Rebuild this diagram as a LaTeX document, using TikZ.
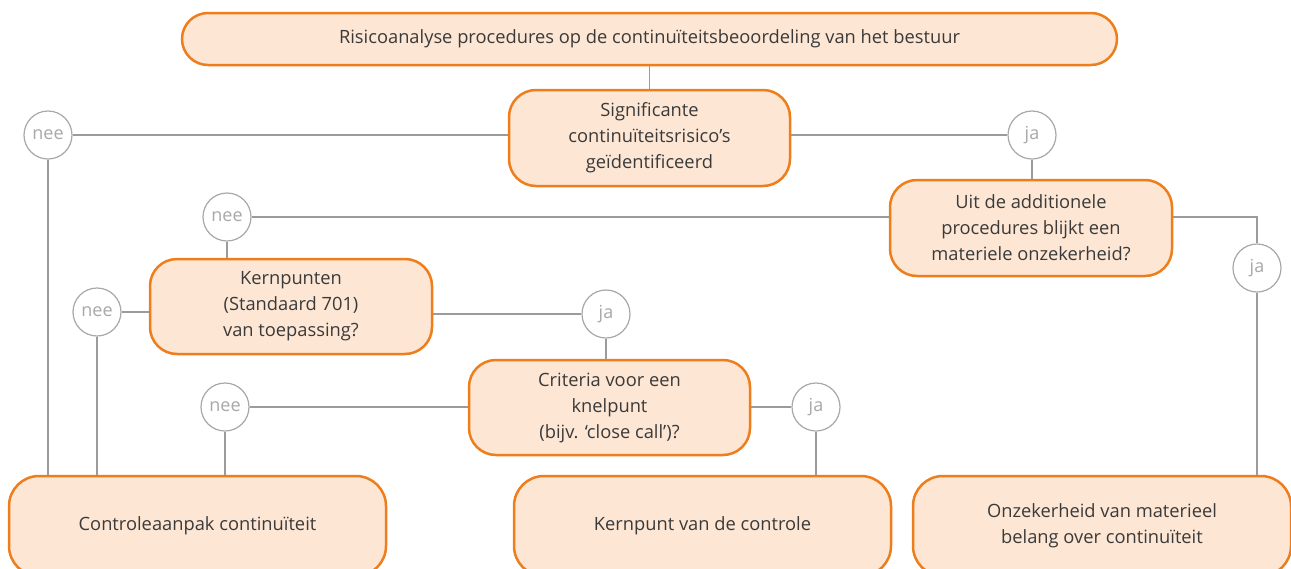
\documentclass[tikz,border=0pt]{standalone}
\usepackage{fontspec}
\setmainfont{Open Sans}
\definecolor{boxfill}{HTML}{FDE6D4}
\definecolor{boxline}{HTML}{EE7D1B}
\definecolor{conn}{HTML}{9B9B9B}
\definecolor{circ}{HTML}{A8A8A8}
\definecolor{txt}{HTML}{3A3A3A}
\tikzset{
  stepbox/.style={draw=boxline, fill=boxfill, line width=2.5pt, rounded corners=27pt,
    text=txt, align=center, font=\fontsize{18.3}{26}\selectfont, inner sep=0pt},
  answer/.style={circle, draw=circ, fill=white, line width=1.2pt, minimum size=48pt,
    inner sep=0pt, text=circ, font=\fontsize{18}{20}\selectfont},
  link/.style={draw=conn, line width=1.3pt}
}
\begin{document}
\begin{tikzpicture}[x=1pt,y=-1pt]
\useasboundingbox (0,0) rectangle (1291,568);
\clip (0,0) rectangle (1291,568);
\node[stepbox, minimum width=935pt, minimum height=52pt, rounded corners=26pt] (top) at (649.5,39)
  {Risicoanalyse procedures op de continuïteitsbeoordeling van het bestuur};
\node[stepbox, minimum width=281pt, minimum height=96pt] (sig) at (649.5,138)
  {Significante\\continuïteitsrisico’s\\geïdentificeerd};
\node[stepbox, minimum width=282pt, minimum height=96pt] (uit) at (1031,228)
  {Uit de additionele\\procedures blijkt een\\materiele onzekerheid?};
\node[stepbox, minimum width=282pt, minimum height=95pt] (kern) at (291,306.5)
  {Kernpunten\\(Standaard 701)\\van toepassing?};
\node[stepbox, minimum width=281pt, minimum height=95pt] (crit) at (609.5,407.5)
  {Criteria voor een\\knelpunt\\(bijv. ‘close call’)?};
\node[stepbox, minimum width=377pt, minimum height=100pt, rounded corners=30pt] (ctrl) at (197.5,526)
  {Controleaanpak continuïteit};
\node[stepbox, minimum width=377pt, minimum height=100pt, rounded corners=30pt] (kp) at (702.5,526)
  {Kernpunt van de controle};
\node[stepbox, minimum width=378pt, minimum height=100pt, rounded corners=30pt] (onz) at (1102,526)
  {Onzekerheid van materieel\\belang over continuïteit};

\node[answer] (nee1) at (48,135) {nee};
\node[answer] (ja1) at (1032,135) {ja};
\node[answer] (nee2) at (227,217) {nee};
\node[answer] (ja2) at (1257,268) {ja};
\node[answer] (nee3) at (97,312) {nee};
\node[answer] (ja3) at (606,314) {ja};
\node[answer] (nee4) at (225,407) {nee};
\node[answer] (ja4) at (816,407) {ja};

\coordinate (uitR) at (uit.east |- nee2);
\coordinate (corner) at (ja2 |- nee2);

\draw[link] (top) -- (sig);
\draw[link] (sig.west |- nee1) -- (nee1);
\draw[link] (nee1) -- (nee1 |- ctrl.north);
\draw[link] (sig.east |- ja1) -- (ja1);
\draw[link] (ja1) -- (ja1 |- uit.north);
\draw[link] (uit.west |- nee2) -- (nee2);
\draw[link] (nee2) -- (nee2 |- kern.north);
\draw[link] (uitR) -- (corner) -- (ja2);
\draw[link] (ja2) -- (ja2 |- onz.north);
\draw[link] (kern.west |- nee3) -- (nee3);
\draw[link] (nee3) -- (nee3 |- ctrl.north);
\draw[link] (kern.east |- ja3) -- (ja3);
\draw[link] (ja3) -- (ja3 |- crit.north);
\draw[link] (crit.west |- nee4) -- (nee4);
\draw[link] (nee4) -- (nee4 |- ctrl.north);
\draw[link] (crit.east |- ja4) -- (ja4);
\draw[link] (ja4) -- (ja4 |- kp.north);
\end{tikzpicture}
\end{document}
